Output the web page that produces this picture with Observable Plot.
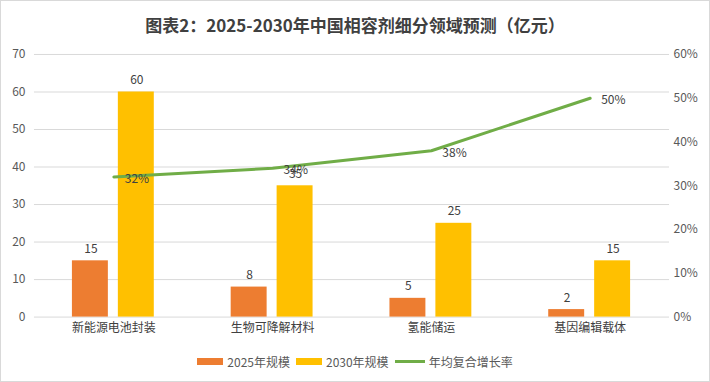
<!DOCTYPE html>
<html>
<head>
<meta charset="utf-8">
<script src="https://cdn.jsdelivr.net/npm/d3@7"></script>
<script src="https://cdn.jsdelivr.net/npm/@observablehq/plot@0.6"></script>
<style>
  html, body { margin: 0; padding: 0; background: #fff; }
  #wrap { position: relative; width: 708px; height: 380px; border: 1px solid #d9d9d9; background: #fff; overflow: hidden;
          font-family: "Noto Sans CJK SC", "Noto Sans", sans-serif; }
  #title { position: absolute; top: 11px; left: 0; width: 708px; text-align: center; font-size: 17px; font-weight: bold; color: #404040; }
  #chart { position: absolute; top: 39px; left: -1px; }
  #legend { position: absolute; top: 352px; left: 0; width: 708px; display: flex; justify-content: center; align-items: center; font-size: 12px; color: #595959; }
  .sw { display: inline-block; width: 26px; height: 7px; margin-right: 4px; }
  .ln { display: inline-block; width: 30px; height: 3px; margin-right: 4px; }
  .item { display: inline-flex; align-items: center; margin: 0 3px; }
</style>
</head>
<body>
<div id="wrap">
  <div id="title">图表2：2025-2030年中国相容剂细分领域预测（亿元）</div>
  <div id="chart"></div>
  <div id="legend"></div>
</div>
<script>
const categories = ["新能源电池封装", "生物可降解材料", "氢能储运", "基因编辑载体"];
const size2025 = [15, 8, 5, 2];
const size2030 = [60, 35, 25, 15];
const growth = [0.32, 0.34, 0.38, 0.50];
const leftTicks = [0, 10, 20, 30, 40, 50, 60, 70];
const rightTicks = [0, 0.1, 0.2, 0.3, 0.4, 0.5, 0.6];
const seriesNames = ["2025年规模", "2030年规模", "年均复合增长率"];
const colors = ["#ED7D31", "#FFC000", "#70AD47"];

const leftMax = 70, rightMax = 0.6;
const toLeft = p => p * leftMax / rightMax;

const rows = categories.map((c, i) => ({cat: c, a: size2025[i], b: size2030[i], g: growth[i], gy: toLeft(growth[i])}));

const font = "Noto Sans CJK SC, Noto Sans, sans-serif";
const txt = "#404040";

const plot = Plot.plot({
  width: 710,
  height: 300,
  marginLeft: 34,
  marginRight: 40,
  marginTop: 14,
  marginBottom: 23,
  style: {fontFamily: font, fontSize: "12px", color: "#595959", background: "transparent"},
  x: {domain: categories, paddingInner: 0, paddingOuter: 0, label: null},
  y: {domain: [0, leftMax], label: null},
  marks: [
    Plot.gridY(leftTicks, {stroke: "#d9d9d9", strokeOpacity: 1}),
    Plot.axisY({ticks: leftTicks, tickSize: 0, tickPadding: 9, label: null, fontSize: 12, fill: "#595959"}),
    Plot.axisY({anchor: "right", ticks: rightTicks.map(toLeft), tickFormat: v => Math.round(v / leftMax * rightMax * 100) + "%", tickSize: 0, tickPadding: 4, label: null, fontSize: 12, fill: "#595959"}),
    Plot.axisX({tickSize: 0, tickPadding: 6, label: null, fontSize: 12, fill: "#404040"}),
    Plot.barY(rows, {x: "cat", y: "a", fill: colors[0], insetLeft: 38, insetRight: 85}),
    Plot.barY(rows, {x: "cat", y: "b", fill: colors[1], insetLeft: 84, insetRight: 39}),
    Plot.text(rows, {x: "cat", y: "a", text: d => String(d.a), dx: -23, dy: -8, lineAnchor: "bottom", fill: txt, fontSize: 12}),
    Plot.text(rows, {x: "cat", y: "b", text: d => String(d.b), dx: 23, dy: -8, lineAnchor: "bottom", fill: txt, fontSize: 12}),
    Plot.line(rows, {x: "cat", y: "gy", stroke: colors[2], strokeWidth: 3}),
    Plot.text(rows, {x: "cat", y: "gy", text: d => Math.round(d.g * 100) + "%", dx: 11, dy: 2, textAnchor: "start", fill: txt, fontSize: 12})
  ]
});
document.getElementById("chart").appendChild(plot);

const legend = document.getElementById("legend");
seriesNames.forEach((name, i) => {
  const item = document.createElement("span");
  item.className = "item";
  const mark = document.createElement("span");
  mark.className = i < 2 ? "sw" : "ln";
  mark.style.background = colors[i];
  item.appendChild(mark);
  item.appendChild(document.createTextNode(name));
  legend.appendChild(item);
});
</script>
</body>
</html>
